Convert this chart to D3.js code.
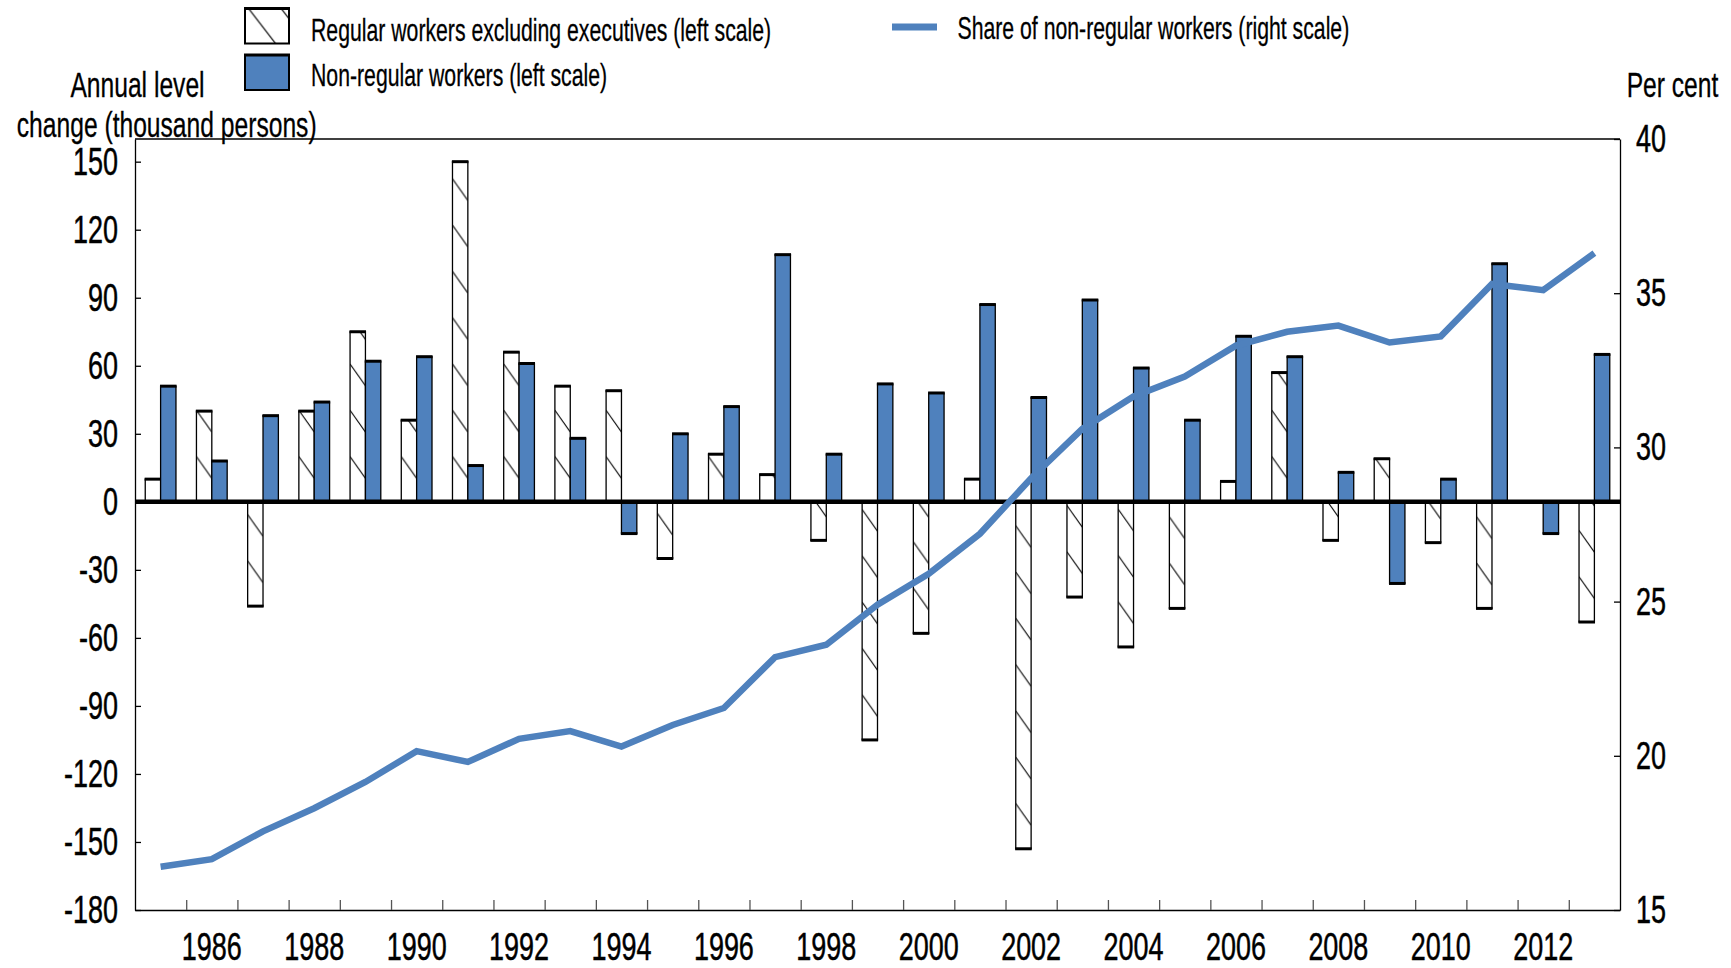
<!DOCTYPE html>
<html>
<head>
<meta charset="utf-8">
<script src="https://cdn.jsdelivr.net/npm/d3@7"></script>
<style>
  html, body { margin: 0; padding: 0; background: #fff; }
  svg { display: block; }
</style>
</head>
<body>
<svg id="chart" width="1731" height="968"></svg>
<script>
// ---- Data -------------------------------------------------------------
const years = [1985, 1986, 1987, 1988, 1989, 1990, 1991, 1992, 1993, 1994,
               1995, 1996, 1997, 1998, 1999, 2000, 2001, 2002, 2003, 2004,
               2005, 2006, 2007, 2008, 2009, 2010, 2011, 2012, 2013];

// Annual level change, thousand persons (left scale)
const regularChange = [10, 40, -46, 40, 75, 36, 150, 66, 51, 49,
                       -25, 21, 12, -17, -105, -58, 10, -153, -42, -64,
                       -47, 9, 57, -17, 19, -18, -47, 0, -53];
const nonRegularChange = [51, 18, 38, 44, 62, 64, 16, 61, 28, -14,
                          30, 42, 109, 21, 52, 48, 87, 46, 89, 59,
                          36, 73, 64, 13, -36, 10, 105, -14, 65];

// Share of non-regular workers, per cent (right scale)
const nonRegularShare = [16.4, 16.65, 17.55, 18.3, 19.15, 20.15, 19.8, 20.55, 20.8, 20.3,
                         21.0, 21.55, 23.2, 23.6, 24.9, 25.9, 27.2, 29.0, 30.6, 31.65,
                         32.3, 33.3, 33.75, 33.95, 33.4, 33.6, 35.3, 35.1, 36.3];

const leftTicks = [-180, -150, -120, -90, -60, -30, 0, 30, 60, 90, 120, 150];
const rightTicks = [15, 20, 25, 30, 35, 40];
const yearLabels = [1986, 1988, 1990, 1992, 1994, 1996, 1998, 2000, 2002, 2004, 2006, 2008, 2010, 2012];

const legendLabels = {
  regular: "Regular workers excluding executives (left scale)",
  nonRegular: "Non-regular workers (left scale)",
  share: "Share of non-regular workers (right scale)"
};

// ---- Style ------------------------------------------------------------
const BLUE = "#4f81bd";
const FONT = '"Liberation Sans Narrow","Arial Narrow","Liberation Sans",Arial,sans-serif';

const svg = d3.select("#chart").attr("font-family", FONT);

// Horizontal squeeze so the condensed lettering keeps its tall proportions
function measure(str, size) {
  const t = svg.append("text").attr("font-size", size).text(str);
  const w = t.node().getComputedTextLength();
  t.remove();
  return w;
}
const TICK_SIZE = 39, LEGEND_SIZE = 32, TITLE_SIZE = 35;
const sxTick = 45 / measure("150", TICK_SIZE);
const sxLegend = 392 / measure(legendLabels.share, LEGEND_SIZE);
const sxTitle = 300 / measure("change (thousand persons)", TITLE_SIZE);

function label(parent, x, y, str, size, sx, anchor = "start", weight = 0.3) {
  return parent.append("text")
    .attr("transform", `translate(${x},${y}) scale(${sx},1)`)
    .attr("font-size", size)
    .attr("text-anchor", anchor)
    .attr("fill", "#000")
    .attr("stroke", "#000").attr("stroke-width", weight)
    .text(str);
}

function squeezeTicks(axisG, sx) {
  axisG.attr("font-family", FONT).attr("font-size", TICK_SIZE);
  axisG.selectAll(".tick text").each(function () {
    const t = d3.select(this);
    const x = +t.attr("x") || 0;
    const y = +t.attr("y") || 0;
    t.attr("x", null).attr("y", null)
     .attr("fill", "#000")
     .attr("stroke", "#000").attr("stroke-width", 0.5)
     .attr("transform", `translate(${x},${y}) scale(${sx},1)`);
  });
}

const plainNumber = d => String(d);   // hyphen-minus for negatives

// ---- Layout -----------------------------------------------------------
const plot = { left: 135, top: 139, right: 1620, bottom: 910 };
const W = plot.right - plot.left;
const H = plot.bottom - plot.top;
const g = svg.append("g").attr("transform", `translate(${plot.left},${plot.top})`);

const x = d3.scaleBand().domain(years).range([0, W]).paddingInner(0).paddingOuter(0);
const step = x.step();
const bw = step * 0.3;
const xEdge = d3.scaleLinear().domain([years[0], years[years.length - 1] + 1]).range([0, W]);
const yL = d3.scaleLinear().domain([-180, 160]).range([H, 0]);
const yR = d3.scaleLinear().domain([15, 40]).range([H, 0]);

// ---- Patterns ---------------------------------------------------------
const defs = svg.append("defs");
const HATCH_PERIOD = 46.3;
const hatch = defs.append("pattern")
  .attr("id", "hatchBar")
  .attr("patternUnits", "userSpaceOnUse")
  .attr("width", 80).attr("height", HATCH_PERIOD);
hatch.append("rect").attr("width", 80).attr("height", HATCH_PERIOD).attr("fill", "#fff");
hatch.append("line")
  .attr("x1", 0).attr("y1", HATCH_PERIOD - 23.5 - 21.7)
  .attr("x2", bw).attr("y2", HATCH_PERIOD - 23.5)
  .attr("stroke", "#000").attr("stroke-width", 1);

const hatchKey = defs.append("pattern")
  .attr("id", "hatchKey")
  .attr("patternUnits", "userSpaceOnUse")
  .attr("x", 3.6).attr("y", 0)
  .attr("width", 32.6).attr("height", 42.4);
hatchKey.append("rect").attr("width", 32.6).attr("height", 42.4).attr("fill", "#fff");
hatchKey.append("line").attr("x1", 0).attr("y1", 0).attr("x2", 32.6).attr("y2", 42.4)
  .attr("stroke", "#000").attr("stroke-width", 1.1);

// ---- Bars -------------------------------------------------------------
const y0 = yL(0);
const regData = years.map((yr, i) => ({ yr, v: regularChange[i] })).filter(d => d.v !== 0);
const nonData = years.map((yr, i) => ({ yr, v: nonRegularChange[i] })).filter(d => d.v !== 0);

// Regular workers: hatched bars anchored at their lower edge so the hatching
// starts from the bottom of each bar.
const regG = g.append("g").selectAll("g").data(regData).join("g")
  .attr("transform", d => `translate(${x(d.yr) + step / 2 - bw},${Math.max(yL(d.v), y0)})`);
regG.append("rect")
  .attr("x", 0)
  .attr("y", d => -Math.abs(yL(d.v) - y0))
  .attr("width", bw)
  .attr("height", d => Math.abs(yL(d.v) - y0))
  .attr("fill", "url(#hatchBar)")
  .attr("stroke", "#000").attr("stroke-width", 1.3);
regG.append("line")
  .attr("x1", -0.6).attr("x2", bw + 0.6)
  .attr("y1", d => d.v > 0 ? -Math.abs(yL(d.v) - y0) : 0)
  .attr("y2", d => d.v > 0 ? -Math.abs(yL(d.v) - y0) : 0)
  .attr("stroke", "#000").attr("stroke-width", 3);

// Non-regular workers: solid blue bars
const nonG = g.append("g");
nonG.selectAll("rect").data(nonData).join("rect")
  .attr("x", d => x(d.yr) + step / 2)
  .attr("y", d => Math.min(yL(d.v), y0))
  .attr("width", bw)
  .attr("height", d => Math.abs(yL(d.v) - y0))
  .attr("fill", BLUE)
  .attr("stroke", "#000").attr("stroke-width", 1.3);
nonG.selectAll("line").data(nonData).join("line")
  .attr("x1", d => x(d.yr) + step / 2 - 0.6)
  .attr("x2", d => x(d.yr) + step / 2 + bw + 0.6)
  .attr("y1", d => yL(d.v)).attr("y2", d => yL(d.v))
  .attr("stroke", "#000").attr("stroke-width", 3);

// Zero line
g.append("line")
  .attr("x1", 0).attr("x2", W)
  .attr("y1", y0).attr("y2", y0)
  .attr("stroke", "#000").attr("stroke-width", 4.5);

// ---- Share line -------------------------------------------------------
const shareData = years.map((yr, i) => ({ yr, v: nonRegularShare[i] }));
g.append("path")
  .datum(shareData)
  .attr("fill", "none")
  .attr("stroke", BLUE)
  .attr("stroke-width", 6.5)
  .attr("stroke-linejoin", "miter")
  .attr("d", d3.line().x(d => x(d.yr) + step / 2).y(d => yR(d.v)));

// ---- Axes -------------------------------------------------------------
// frame top
g.append("line").attr("x1", 0).attr("x2", W).attr("y1", 0).attr("y2", 0)
  .attr("stroke", "#000").attr("stroke-width", 1.3);

const axL = g.append("g")
  .call(d3.axisLeft(yL).tickValues(leftTicks).tickFormat(plainNumber)
    .tickSizeInner(-6).tickSizeOuter(0).tickPadding(17));
axL.selectAll("path, line").attr("stroke", "#000").attr("stroke-width", 1.3);
squeezeTicks(axL, sxTick);

const axR = g.append("g").attr("transform", `translate(${W},0)`)
  .call(d3.axisRight(yR).tickValues(rightTicks).tickFormat(plainNumber)
    .tickSizeInner(-6).tickSizeOuter(0).tickPadding(16));
axR.selectAll("path, line").attr("stroke", "#000").attr("stroke-width", 1.3);
squeezeTicks(axR, sxTick);

// year boundary ticks
const axB = g.append("g").attr("transform", `translate(0,${H})`)
  .call(d3.axisBottom(xEdge).tickValues(years.slice(1)).tickFormat("").tickSizeInner(-10).tickSizeOuter(0));
axB.selectAll(".tick line").attr("stroke", "#555").attr("stroke-width", 1.3);
axB.select(".domain").attr("stroke", "#000").attr("stroke-width", 1.5);

// year labels
const axBL = g.append("g").attr("transform", `translate(0,${H})`)
  .call(d3.axisBottom(x).tickValues(yearLabels).tickFormat(plainNumber).tickSize(0).tickPadding(22));
axBL.select(".domain").remove();
squeezeTicks(axBL, sxTick);

// ---- Axis titles ------------------------------------------------------
label(svg, 137.5, 96.5, "Annual level", TITLE_SIZE, sxTitle, "middle");
label(svg, 166.7, 137, "change (thousand persons)", TITLE_SIZE, sxTitle, "middle");
label(svg, 1672.5, 96.5, "Per cent", TITLE_SIZE, sxTitle, "middle");

// ---- Legend -----------------------------------------------------------
const key1 = svg.append("g").attr("transform", "translate(245,8.5)");
key1.append("rect").attr("width", 44).attr("height", 35)
  .attr("fill", "url(#hatchKey)").attr("stroke", "#000").attr("stroke-width", 2);
key1.append("line").attr("x1", -1).attr("x2", 45).attr("y1", 0).attr("y2", 0)
  .attr("stroke", "#000").attr("stroke-width", 3);
label(svg, 311, 41, legendLabels.regular, LEGEND_SIZE, sxLegend);

const key2 = svg.append("g").attr("transform", "translate(245,55)");
key2.append("rect").attr("width", 44).attr("height", 35)
  .attr("fill", BLUE).attr("stroke", "#000").attr("stroke-width", 2);
key2.append("line").attr("x1", -1).attr("x2", 45).attr("y1", 0).attr("y2", 0)
  .attr("stroke", "#000").attr("stroke-width", 3);
label(svg, 311, 86, legendLabels.nonRegular, LEGEND_SIZE, sxLegend);

svg.append("line").attr("x1", 892).attr("x2", 937).attr("y1", 27).attr("y2", 27)
  .attr("stroke", BLUE).attr("stroke-width", 7);
label(svg, 957.5, 39, legendLabels.share, LEGEND_SIZE, sxLegend);
</script>
</body>
</html>
